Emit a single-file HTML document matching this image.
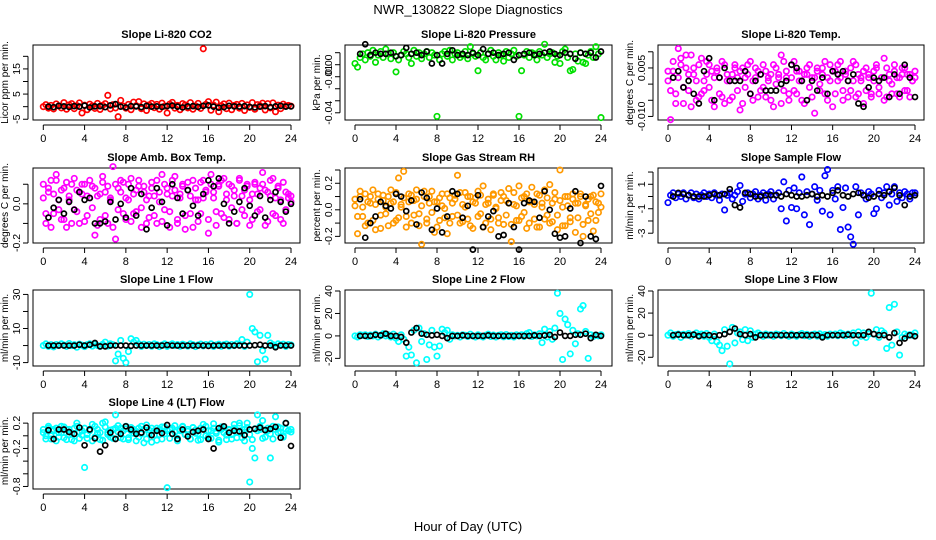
<!DOCTYPE html>
<html><head><meta charset="utf-8"><style>
body{margin:0;background:#fff;}
svg{display:block;font-family:"Liberation Sans",sans-serif;}
</style></head><body>
<svg id="chart" width="936" height="540" viewBox="0 0 936 540">
<text x="468" y="14" text-anchor="middle" font-size="13">NWR_130822  Slope Diagnostics</text>
<text x="468" y="531" text-anchor="middle" font-size="13">Hour of Day (UTC)</text>
</svg>
<script>
const xTicks=[0,4,8,12,16,20,24];
const titles=["Slope Li-820 CO2","Slope Li-820 Pressure","Slope Li-820 Temp.","Slope Amb. Box Temp.","Slope Gas Stream RH","Slope Sample Flow","Slope Line 1 Flow","Slope Line 2 Flow","Slope Line 3 Flow","Slope Line 4 (LT) Flow"];
const yTitles=["Licor ppm per min.","kPa per min.","degrees C per min.","degrees C per min.","percent per min.","ml/min per min.","ml/min per min.","ml/min per min.","ml/min per min.","ml/min per min."];
const yDomains=[[-5.3,24.5],[-0.046,0.0164],[-0.0111,0.0121],[-0.2,0.183],[-0.25,0.315],[-3.8,2.33],[-12,32.6],[-26.8,40.9],[-27.9,40.9],[-0.84,0.36]];
const yTickVals=[[-5,0,5,10,15,20],[0.01,0,-0.01,-0.02,-0.03,-0.04],[0.01,0.005,0,-0.005,-0.01],[0.1,0,-0.1,-0.2],[0.3,0.2,0.1,0,-0.1,-0.2],[2,1,0,-1,-2,-3],[30,20,10,0,-10],[40,20,0,-20],[40,20,0,-20],[0.2,0,-0.2,-0.4,-0.6,-0.8]];
const yTickLabels=[["-5","5","15"],["0.00","-0.01","-0.04"],["0.005","-0.010"],["0.0","-0.2"],["0.2","0.0","-0.2"],["1","-1","-3"],["30","10","-10"],["40","20","0","-20"],["40","20","0","-20"],["0.2","-0.2","-0.8"]];
const colors=["#ff0000","#00e000","#ff00ff","#ff00ff","#ff9900","#0000ff","#00ffff","#00ffff","#00ffff","#00ffff"];

const co2=[0,0.8,-0.6,0.5,-0.9,1.1,0.3,-0.5,1.6,-1,0.7,1.2,-0.8,0.4,1.5,-2.5,0.6,-1.2,1,0.3,-0.7,1.3,-1.1,0.5,1.2,4.5,-0.9,0.8,-0.5,-4,2.5,0.2,-0.6,0.9,-1.2,1.8,0.4,2,-0.8,1.1,-1.5,0.7,1.3,-0.4,0.9,-1,1.4,0.2,-2.5,1,1.7,-0.6,0.5,-1.2,1.2,0.7,-0.5,1.6,-1,0.3,1.3,-0.7,23,0.9,2,-1.4,0.6,1.8,-2,0.4,1.1,-0.8,1.4,-1.2,0.5,0.9,-0.6,1.3,-1.5,0.7,-0.3,1.6,-1,0.8,0.4,1.4,-1.3,1.2,-0.5,1.5,-2,0.6,-0.8,1,0.3,0.5,0.2];
const co2Black=[0,-0.2,0.3,0.1,-0.1,0.2,0,0.4,-0.3,0.1,0.2,-0.2,0.5,1,0,-0.3,0.2,0.1,-0.2,0.3,0,0.1,-0.1,0.2,0.4,0,-0.3,0.1,0.2,-0.1,0.3,0.5,0,-0.4,-0.2,0.3,0.1,0,0.2,-0.1,-0.3,0,0.2,-0.2,0.1,0.3,0,0.1];
const pres=[0.001,-0.002,0.006,0.009,0.004,0.01,0.007,0.012,0.002,0.008,0.011,0.006,0.013,0.009,0.005,0.01,-0.006,0.004,0.008,0.011,0.009,0.006,0.001,0.012,0.007,0.01,0.005,0.009,0.011,0.006,0.01,0.008,-0.043,0.004,0.009,0.011,0.007,0.012,0.004,0.009,0.01,0.006,0.008,0.011,0.005,0.015,0.009,0.007,-0.005,0.01,0.006,0.004,0.009,0.012,0.007,0.004,0.01,0.008,0.003,0.011,0.006,0.009,0.012,0.007,-0.043,-0.005,0.008,0.011,0.006,0.01,0.009,0.004,0.011,0.008,0.017,0.006,0.009,0.01,0.002,0.007,0.001,0.011,0.013,0.006,-0.005,-0.004,0.009,0.003,0.01,0.002,0.001,0.008,0.011,0.006,0.015,0.009,-0.044];
const presBlack=[0.009,0.017,0.008,0.01,0.009,0.009,0.01,0.007,0.008,0.014,0.009,0.01,0.008,0.011,0.001,0.008,0.001,0.009,0.012,0.008,0.009,0.008,0.01,0.008,0.013,0.009,0.01,0.008,0.009,0.01,0.004,0.008,0.009,0.01,0.008,0.009,0.01,0.011,0.009,0.008,0.01,0.009,0.005,0.01,0.009,0.01,0.006,0.011];
const temp=[0.001,-0.011,0.004,-0.003,0.011,0.008,-0.006,0.005,-0.002,0.009,0.003,-0.005,0.006,-0.003,0.001,0.007,-0.001,0.004,-0.007,0.005,0.002,-0.004,0.006,0.001,-0.005,0.003,0.005,-0.002,0.004,-0.006,0.002,0.006,-0.003,0.001,0.005,-0.004,0.003,-0.001,0.004,0.002,-0.005,0.006,0,0.003,-0.006,0.007,0.002,-0.003,0.006,-0.002,0.004,0.001,-0.005,0.003,0.005,-0.001,0.002,-0.009,0.004,0,0.005,-0.003,0.002,0.006,-0.007,0.004,0.001,0.007,-0.002,0.003,-0.004,0.005,0.001,0.006,-0.003,0.002,0.004,-0.002,0.003,-0.004,0.001,0.005,-0.003,0.002,0.008,-0.004,0.003,0,0.004,-0.003,0.002,0.005,-0.002,0.003,-0.004,0.001,0.002];
const temp2=[0.004,-0.002,0.007,-0.006,0.002,0.006,-0.001,0.009,0.003,-0.007,0.005,0.001,-0.004,0.008,-0.002,0.003,0.006,-0.005,0.002,0.004,-0.003,0.007,-0.006,0.003,0.001,-0.004,0.006,0.002,-0.008,0.005,-0.001,0.003,0.007,-0.005,0.002,0.004,-0.002,0.006,-0.004,0.001,0.003,-0.007,0.005,0.002,0.009,-0.002,0.004,-0.005,0.002,0.007,-0.003,0.004,0.001,-0.006,0.003,0.006,-0.004,0.002,0.005,-0.002,0.003,0.007,-0.005,0.001,0.004,-0.003,0.006,0.002,-0.005,0.004,0.001,-0.002,0.007,-0.004,0.003,0.001,-0.006,0.005,0.002,-0.003,0.004,0.006,-0.001,0.002,-0.005,0.005,0.001,-0.003,0.006,0.002,-0.004,0.003,0.005,-0.002,0.003,0.001,0.004];
const tempBlack=[0.002,0.004,-0.001,0.001,-0.003,-0.006,0.004,0.008,-0.005,0.002,0.005,0.001,0.001,0.001,0.004,-0.003,0.001,0.003,-0.002,-0.002,-0.002,0,0.001,0.006,0.005,0.001,-0.005,0.001,-0.002,0.002,-0.003,0.004,0.003,0.004,0.001,0.003,-0.006,-0.007,-0.001,0.002,0.001,0.002,-0.004,0.003,-0.003,0.006,0.002,-0.004];
const amb=[0.03,-0.1,0.06,0.12,-0.05,0.15,0.02,-0.08,0.08,-0.12,0.04,0.1,-0.03,0.07,-0.1,0.05,0.1,-0.06,0.03,0.09,-0.16,0.04,-0.08,0.11,0.06,-0.1,0.02,0.19,-0.18,0.08,0.12,-0.05,0.03,0.1,-0.09,0.05,-0.04,0.09,-0.12,0.06,0.02,-0.07,0.11,0.04,-0.1,0.06,0.15,-0.03,0.08,-0.12,0.04,0.14,-0.08,0.05,0.1,-0.13,0.07,-0.05,0.12,0.02,-0.09,0.11,0.03,0.07,-0.15,0.15,0.06,-0.11,0.1,-0.05,0.13,0.02,-0.08,0.09,0.04,-0.1,0.12,-0.03,0.07,0.1,-0.11,0.05,0.1,-0.04,0.08,0.16,-0.11,0.06,0.12,-0.05,0.03,0.09,-0.08,0.11,-0.03,0.05,0.04];
const amb2=[0.1,-0.05,0.08,-0.12,0.05,0.12,-0.03,0.07,-0.08,0.11,0.02,-0.1,0.13,-0.04,0.06,0.1,-0.09,0.04,0.12,-0.02,0.08,-0.11,0.05,0.14,-0.06,0.09,0.03,-0.12,0.1,-0.03,0.06,0.11,-0.08,0.02,0.13,-0.05,0.07,0.12,-0.02,0.09,-0.1,0.04,0.08,-0.06,0.12,0.01,-0.09,0.1,0.05,-0.04,0.12,0.07,-0.1,0.03,0.09,-0.06,0.11,0.04,-0.12,0.08,0.02,-0.05,0.12,0.06,-0.08,0.1,0.03,-0.04,0.09,0.12,-0.07,0.05,0.1,-0.02,0.07,-0.1,0.13,0.04,-0.06,0.09,0.02,-0.08,0.11,0.05,-0.03,0.1,0.07,-0.09,0.04,0.13,-0.06,0.08,0.02,-0.1,0.06,0.03,0.01];
const ambBlack=[-0.07,-0.02,0.02,-0.05,0.01,-0.03,0.06,0.02,0.03,-0.1,-0.1,-0.09,0.01,-0.08,0,-0.07,0.08,-0.06,0.05,-0.13,-0.02,0.08,0.01,-0.11,0.1,0.03,-0.05,0.07,-0.01,-0.06,0.05,0.12,0.09,0.13,0,-0.1,-0.04,0.01,0.08,-0.01,-0.06,0.04,-0.07,0.02,0.06,0.01,-0.04,0];
const rh=[0.03,-0.18,0.1,-0.05,0.12,-0.1,0.05,0.15,-0.15,0.08,-0.04,0.11,0.02,-0.12,0.15,0.06,-0.08,0.24,0.04,0.29,-0.05,0.12,-0.1,0.07,0.15,-0.03,-0.26,0.1,-0.1,0.05,0.14,-0.17,0.06,-0.08,0.12,0.01,-0.18,0.09,-0.05,0.11,0.26,-0.1,0.04,0.13,-0.07,0.1,-0.14,0.05,0.14,-0.03,0.18,-0.1,0.05,-0.15,0.11,0.01,-0.06,0.13,-0.11,0.07,0.16,-0.24,0.04,-0.08,0.18,-0.05,0.1,-0.14,0.06,0.17,-0.07,0.12,-0.13,0.05,0.15,-0.04,0.19,-0.09,0.08,-0.15,0.3,0.02,-0.12,0.1,-0.06,0.08,-0.17,0.05,0.12,-0.2,0.03,-0.08,0.1,-0.16,0.06,-0.02,0.12];
const rh2=[0.08,-0.05,0.14,0.02,-0.12,0.06,0.1,-0.08,0.04,0.12,-0.14,0.07,-0.03,0.1,0.05,-0.1,0.13,-0.06,0.02,0.09,-0.13,0.06,0.11,-0.04,0.08,-0.12,0.03,0.14,-0.07,0.1,-0.02,0.06,-0.13,0.09,0.03,-0.06,0.12,-0.1,0.05,0.08,-0.04,0.13,-0.09,0.02,0.1,-0.12,0.06,0.09,-0.05,0.11,-0.13,0.04,0.08,-0.07,0.12,0.02,-0.1,0.07,0.1,-0.04,0.05,-0.11,0.13,0.03,-0.08,0.09,-0.02,0.12,-0.1,0.06,0.04,-0.13,0.11,0.02,-0.07,0.09,-0.1,0.05,0.13,-0.04,0.07,-0.12,0.1,0.03,-0.09,0.12,0.05,-0.06,0.1,-0.11,0.04,0.08,-0.03,0.11,-0.08,0.05,0.02];
const rhBlack=[0.08,-0.21,-0.1,-0.05,0.06,0.03,0.01,0.12,0.1,-0.01,0.07,-0.11,0.13,0.09,-0.15,0.01,-0.17,-0.05,0.14,0.12,-0.06,0.03,-0.3,0.11,-0.13,-0.05,-0.01,-0.2,-0.19,0.05,-0.13,-0.3,0.05,0.07,0.06,-0.06,0.14,0,-0.18,-0.21,-0.2,0.01,0.14,-0.25,0.1,-0.2,-0.22,0.18];
const sflow=[-0.5,0.1,0.3,-0.1,0.2,0,0.3,-0.2,0.1,0.3,-0.1,0.2,-0.2,0.1,0.3,0,0.2,-0.1,0.3,0.1,-0.3,0.2,-1.1,0.1,0.3,-0.2,0.1,0.4,0.9,-0.4,0.2,0.3,-0.1,0.2,0.4,-0.2,0.1,0.3,-0.3,0.2,0.4,-0.2,0.1,0.3,-1,1.2,-2,0.5,-0.9,0.7,-1,0.3,1.6,-1.5,0.4,-2.3,0.2,0.8,-0.3,0.5,-1.2,1.7,2.2,-1.5,0.5,-0.2,0.8,-2.7,-0.9,0.7,-2.5,-3.3,-3.9,0.8,-1.5,0.3,0.1,-0.2,0.4,0.2,-1.4,-1,0.5,-0.1,0.3,0.8,-0.7,0.2,0.8,-0.4,0.3,-0.1,0.4,0.2,-0.2,0.3,0.3];
const sflowBlack=[0,0.3,0.2,0.1,0,0,0,0.1,0.2,0.1,0.2,0.6,-0.7,-0.9,0.3,0.2,0,0,0.1,0.1,0.1,0,0.2,0.1,0,0,0.1,0.2,0,0.1,0,0.3,0.5,0.1,0,0.2,0.3,0.1,-0.1,0,0.2,0.1,0.4,0.7,0.1,-0.7,0,0.1];
const line1=[0,1,-0.5,0.5,-0.8,0.6,0,1,0.3,-0.5,1.2,0,0.5,-1,0.8,0.2,-0.6,0.5,1,-0.3,0.8,0,-0.5,0.7,2,-0.3,1,0.5,-9,-5,3,-7.5,-10,-3.5,4,2,3,1,-0.5,0.8,0,0.6,-0.4,1,0.5,-0.6,0.3,1,-0.5,0.4,1,0,0.6,-0.4,0.8,0.2,-0.3,1,0.5,-0.6,0.4,0.9,-0.2,0.6,0,1,-0.5,0.3,0.8,-0.4,0.5,0.9,-0.3,0.6,0,1,0.4,3.5,-0.5,2,30,10,8,-9.5,6,-3,-8,6,1.5,0.5,-0.3,1,0.3,0.8,-0.5,0.6,0.4];
const line1Black=[0,0,0,0,0,0,0.5,0,0.5,1.5,-0.5,-0.5,0,0,0,0,-0.2,0,0,0,0,0,0,0.3,0,0,0,0,0,0,0,-0.2,0,0,0,0,0,0,0,0,0.2,0.5,0,0,-1,0,0,0];
const line2=[0,-1,1,0.5,1,-0.5,0.8,0,1.5,-1,0.5,2,0,1,-1,1.5,-2,-5,1,-3,-18,-10,-17,5,-24,7,-5,2,-21,-8,5,-10,-18,-9,6,3,5,-3,1,0,0.5,-1,1,0.5,-0.5,1.5,0,-1,1,0,-1,0.5,1.5,-0.5,0.8,-1,0.5,1,-0.8,1.2,-0.5,0.6,-1,1,0,1,-0.5,2,3,-0.5,1,0,2,-6,6,-1,4,-3,7,38,20,-21,15,10,-16,5,-7,2,24,27,4,-20,1,-0.5,0.5,0,1];
const line2Black=[0,0,0,1,0.5,2,0,0,-1,-6,3,7,2,1,0.5,1,0,-2,0,0,0.5,0,0,0,0,0.5,0,0,0,0,0,0,0,0,0.5,0,0.5,1,-1,3,0,0,1,1,2,-2,1,0];
const line3=[0,2,-1,0.5,1,-2,0.8,0,1.5,-1,0.5,2,0,1,-1,1.5,-2,-5,1,-6,-9,-14,5,-10,-26,7,-7,2,3,-4,5,-5,4,-2,1,2,0.5,-1,1,0,0.5,-1,1,0.5,-0.5,1.5,0,-1,1,0,-1,0.5,1.5,-0.5,0.8,-1,0.5,1,-0.8,1.2,-0.5,0.6,-1,1,0,1,-0.5,2,1,-0.5,1,0,2,-7,3,-1,2,-2,1,38,1,5,-2,4,2,-12,25,-9,28,3,-18,-2,1,-0.5,0.5,0,2];
const line3Black=[0,0.5,0,0,0.5,-1,0,0,-1,0,1,3,6,1,0,1,-2,0,0,0,0,0,0,0,0,0,0,0,0,-2,0,0,0,0,0.5,0,0,0,3,1,0,0,-2,2,-7,-3,0,-1];
const line4=[0.05,-0.05,0.12,0,0.1,-0.08,0.05,0.15,-0.03,0.1,0.02,-0.06,0.12,0.2,-0.04,0.08,-0.5,0.02,0.1,-0.08,0.15,0.04,-0.06,0.2,0.22,0.05,-0.02,0.1,0.33,0.06,0.12,-0.05,0.15,-0.03,0.08,0.1,-0.08,0.12,0.03,-0.11,0.17,0.04,-0.1,0.08,0.12,0.02,-0.05,0.14,-0.82,0.1,0.03,0.16,-0.04,0.08,0.14,0.02,0.1,-0.05,0.13,0.04,-0.07,0.12,0.18,0,0.08,-0.04,0.19,0.07,-0.1,0.14,0.05,-0.06,0.1,0.02,0.18,-0.03,0.2,0.06,-0.08,0.2,-0.73,-0.2,-0.35,0.33,0.1,0.24,-0.02,0.08,-0.35,0.15,0.3,0.05,0.12,-0.02,0.2,0.08,0.06];
const line4b=[0.1,0,0.15,-0.05,0.08,0.12,-0.02,0.05,0.14,-0.06,0.1,0.04,-0.08,0.15,0.06,0.01,0.12,-0.04,0.08,0.18,-0.02,0.1,0.05,-0.07,0.14,0.02,0.09,-0.04,0.12,0.16,-0.03,0.08,0.11,-0.06,0.13,0.04,0.07,-0.02,0.15,0.1,-0.05,0.09,0.12,0.01,-0.07,0.1,0.14,0.03,0.08,-0.04,0.12,0.06,-0.08,0.1,0.15,0.02,0.07,-0.05,0.13,0.09,0.03,-0.06,0.11,0.15,-0.02,0.08,0.12,0.04,-0.07,0.1,0.14,0.01,0.09,-0.05,0.12,0.06,0.16,-0.03,0.1,0.13,0.02,-0.06,0.11,0.08,0.15,-0.04,0.09,0.12,0.03,-0.05,0.1,0.14,0.06,0,0.11,0.08,0.1];
const line4Black=[0.09,-0.05,0.1,0.1,0.06,0.03,0.13,-0.15,0.1,-0.04,-0.25,-0.15,0.05,-0.05,0.03,0.15,0.1,0.03,0.05,0.13,0.01,0.08,0.04,0.17,0.03,-0.05,0.1,-0.01,0.06,0.08,0.1,-0.05,-0.2,0.12,0.15,0.05,0.08,0.07,0.01,0.1,0.11,0.13,0.09,0.11,0.14,-0.03,0.2,-0.16];

const colorSeries=[[co2],[pres],[temp,temp2],[amb,amb2],[rh,rh2],[sflow],[line1],[line2],[line3],[line4,line4b]];
const blackSeries=[co2Black,presBlack,tempBlack,ambBlack,rhBlack,sflowBlack,line1Black,line2Black,line3Black,line4Black];
const panelNames=["co2","pressure","licor-temp","amb-box-temp","gas-stream-rh","sample-flow","line1-flow","line2-flow","line3-flow","line4-flow"];

const NS="http://www.w3.org/2000/svg";
const svg=document.getElementById("chart");
const colL=[33,345,658],colR=[300,612,924],x0p=[43.3,355,668],x24p=[291,601,915];
const rowT=[45,168,290,413],rowB=[120,243,366,489];
function mk(tag,attrs,parent){const e=document.createElementNS(NS,tag);for(const k in attrs)e.setAttribute(k,attrs[k]);(parent||svg).appendChild(e);return e;}

for(let p=0;p<10;p++){
  const c=p%3,r=Math.floor(p/3);
  const L=colL[c],R=colR[c],T=rowT[r],B=rowB[r];
  const xs=h=>x0p[c]+(x24p[c]-x0p[c])*h/24;
  const [d0,d1]=yDomains[p];
  const ys=v=>B-(v-d0)/(d1-d0)*(B-T);
  const g=mk("g",{});
  
  
  const t=mk("text",{x:(L+R)/2,y:T-7,"text-anchor":"middle","font-size":"11","font-weight":"bold"},g);
  t.textContent=titles[p];
  
  
  const yt=mk("text",{x:0,y:0,"text-anchor":"middle","font-size":"10",transform:`translate(${L-25},${(T+B)/2}) rotate(-90)`},g);
  yt.textContent=yTitles[p];
  
  
  const box=mk("rect",{x:L,y:T,width:R-L,height:B-T,fill:"none",stroke:"#000","stroke-width":"1"},g);
  
  
  mk("line",{x1:xs(0),x2:xs(24),y1:B+5,y2:B+5,stroke:"#000"},g);
  xTicks.forEach(h=>{
    mk("line",{x1:xs(h),x2:xs(h),y1:B+5,y2:B+10,stroke:"#000"},g);
    const tl=mk("text",{x:xs(h),y:B+22,"text-anchor":"middle","font-size":"11"},g);
    tl.textContent=h;
    
    
  });
  const tv=yTickVals[p].filter(v=>v>=d0&&v<=d1);
  mk("line",{x1:L-5,x2:L-5,y1:ys(Math.max(...tv)),y2:ys(Math.min(...tv)),stroke:"#000"},g);
  tv.forEach(v=>{mk("line",{x1:L-10,x2:L-5,y1:ys(v),y2:ys(v),stroke:"#000"},g);});
  yTickLabels[p].forEach(s=>{
    const v=parseFloat(s);
    const tl=mk("text",{x:0,y:0,"text-anchor":"middle","font-size":"10.5",transform:`translate(${L-13},${ys(v)}) rotate(-90)`},g);
    tl.textContent=s;
    
    
  });
  colorSeries[p].forEach(cs=>{
    const n=cs.length;
    cs.forEach((v,i)=>{
      const pt=mk("circle",{cx:xs(i*24/(n-1)),cy:ys(v),r:2.7,fill:"none",stroke:colors[p],"stroke-width":"1.7"},g);
      
      
    });
  });
  const bs=blackSeries[p],m=bs.length;
  bs.forEach((v,i)=>{
    const pt=mk("circle",{cx:xs(0.5+i*23.5/(m-1)),cy:ys(v),r:2.5,fill:"none",stroke:"#000","stroke-width":"1.7"},g);
    
    
  });
}
</script>
</body></html>
